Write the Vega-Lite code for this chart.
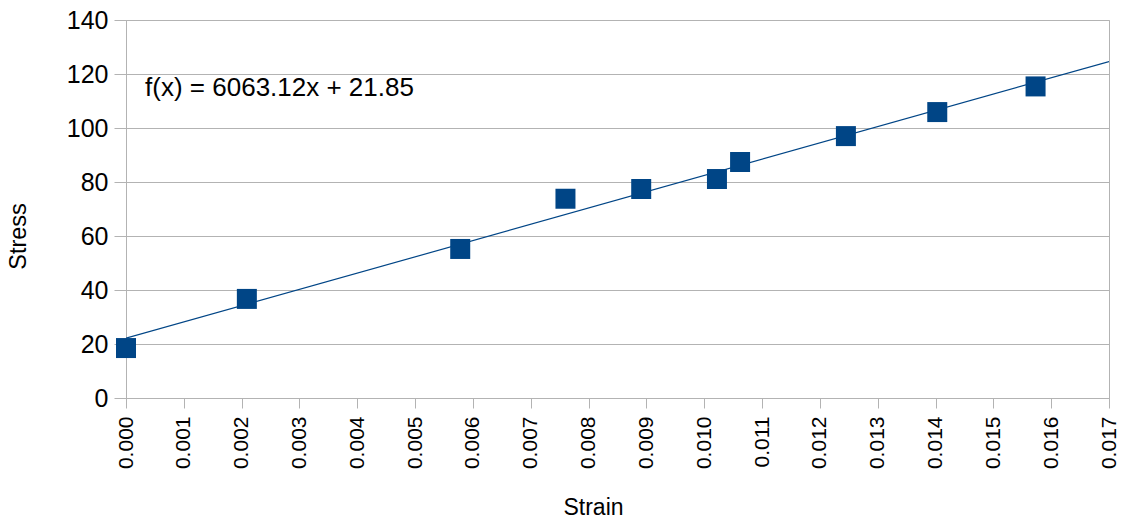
{
  "$schema": "https://vega.github.io/schema/vega-lite/v6.json",
  "autosize": {"type": "none"},
  "width": 983,
  "height": 378,
  "padding": {"left": 126, "top": 20, "right": 18, "bottom": 123},
  "background": "white",
  "config": {
    "view": {"stroke": "#b3b3b3", "strokeWidth": 1},
    "font": "Liberation Sans",
    "axis": {
      "gridColor": "#b3b3b3",
      "domainColor": "#b3b3b3",
      "tickColor": "#b3b3b3",
      "labelColor": "#000000",
      "titleColor": "#000000",
      "labelFont": "Liberation Sans",
      "titleFont": "Liberation Sans",
      "titleFontWeight": "normal"
    }
  },
  "datasets": {
    "points": [
      {"strain": 0.0, "stress": 18.5},
      {"strain": 0.00209, "stress": 36.7},
      {"strain": 0.00578, "stress": 55.2},
      {"strain": 0.0076, "stress": 73.8},
      {"strain": 0.00891, "stress": 77.4},
      {"strain": 0.01022, "stress": 81.1},
      {"strain": 0.01062, "stress": 87.4},
      {"strain": 0.01245, "stress": 97.0},
      {"strain": 0.01403, "stress": 105.9},
      {"strain": 0.01573, "stress": 115.4}
    ],
    "label": [
      {"strain": 0.00033, "stress": 114.8, "text": "f(x) = 6063.12x + 21.85"}
    ]
  },
  "layer": [
    {
      "data": {"name": "points"},
      "transform": [
        {"regression": "stress", "on": "strain", "extent": [0, 0.017]}
      ],
      "mark": {"type": "line", "color": "#004586", "strokeWidth": 1.2, "clip": true},
      "encoding": {
        "x": {
          "field": "strain", "type": "quantitative",
          "scale": {"domain": [0, 0.017], "nice": false, "zero": false},
          "axis": {
            "title": "Strain",
            "values": [0, 0.001, 0.002, 0.003, 0.004, 0.005, 0.006, 0.007, 0.008, 0.009, 0.01, 0.011, 0.012, 0.013, 0.014, 0.015, 0.016, 0.017],
            "format": ".3f",
            "grid": false,
            "labelAngle": -90,
            "labelAlign": "right",
            "labelBaseline": "middle",
            "labelFontSize": 21,
            "labelPadding": 8,
            "tickSize": 10,
            "titleFontSize": 23,
            "titlePadding": 28,
            "titleX": 467
          }
        },
        "y": {
          "field": "stress", "type": "quantitative",
          "scale": {"domain": [0, 140], "nice": false},
          "axis": {
            "title": "Stress",
            "values": [0, 20, 40, 60, 80, 100, 120, 140],
            "grid": true,
            "labelFontSize": 25,
            "labelPadding": 6,
            "tickSize": 12,
            "titleFontSize": 23.5,
            "titlePadding": 36,
            "titleY": 216
          }
        }
      }
    },
    {
      "data": {"name": "points"},
      "mark": {"type": "point", "shape": "square", "filled": true, "size": 400, "color": "#004586", "opacity": 1},
      "encoding": {
        "x": {"field": "strain", "type": "quantitative"},
        "y": {"field": "stress", "type": "quantitative"}
      }
    },
    {
      "data": {"name": "label"},
      "mark": {"type": "text", "align": "left", "baseline": "middle", "fontSize": 26, "color": "#000000", "font": "Liberation Sans"},
      "encoding": {
        "x": {"field": "strain", "type": "quantitative"},
        "y": {"field": "stress", "type": "quantitative"},
        "text": {"field": "text"}
      }
    }
  ]
}
